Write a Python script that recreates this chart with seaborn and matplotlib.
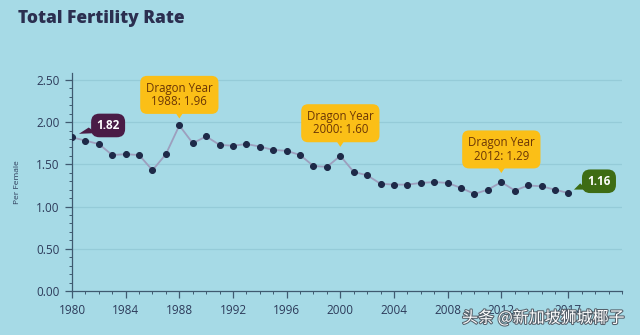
import matplotlib
matplotlib.use("Agg")
import matplotlib.pyplot as plt
import matplotlib.transforms as mtransforms
from matplotlib.patches import Polygon
import seaborn as sns
import pandas as pd
from matplotlib.ticker import MultipleLocator, FixedLocator
import matplotlib.patheffects as pe

years = list(range(1980, 2018))
tfr = [1.82, 1.78, 1.74, 1.61, 1.62, 1.61, 1.43, 1.62, 1.96, 1.75,
       1.83, 1.73, 1.72, 1.74, 1.71, 1.67, 1.66, 1.61, 1.48, 1.47,
       1.60, 1.41, 1.37, 1.27, 1.26, 1.26, 1.28, 1.29, 1.28, 1.22,
       1.15, 1.20, 1.29, 1.19, 1.25, 1.24, 1.20, 1.16]
xtick_years = [1980, 1984, 1988, 1992, 1996, 2000, 2004, 2008, 2012, 2017]
ytick_vals = [0.0, 0.5, 1.0, 1.5, 2.0, 2.5]
dragon_years = [1988, 2000, 2012]
first_year, last_year = 1980, 2017

BG = "#a6dae6"
df = pd.DataFrame({"year": years, "tfr": tfr})
val = dict(zip(years, tfr))

sns.set_theme(style="white")
plt.rcParams["font.family"] = ["Open Sans", "DejaVu Sans"]

fig = plt.figure(figsize=(6.4, 3.35), dpi=100, facecolor=BG)
ax = fig.add_axes([0.1125, 0.131, 0.8595, 0.651])
ax.set_facecolor(BG)

for yv in ytick_vals[1:]:
    ax.axhline(yv, color="#95cbd8", lw=0.9, zorder=0)

sns.lineplot(data=df, x="year", y="tfr", ax=ax, color="#9d9fbe", lw=1.3,
             marker="o", markersize=4.3, markerfacecolor="#1e2a48",
             markeredgecolor="#1e2a48", zorder=3)

ax.set_xlim(1980, 2021)
ax.set_ylim(0, 2.58)
ax.xaxis.set_major_locator(FixedLocator(xtick_years))
ax.set_xticklabels([str(y) for y in xtick_years])
ax.xaxis.set_minor_locator(MultipleLocator(1))
ax.yaxis.set_major_locator(FixedLocator(ytick_vals))
ax.set_yticklabels([f"{v:.2f}" for v in ytick_vals])
ax.yaxis.set_minor_locator(MultipleLocator(0.1))
ax.tick_params(axis="both", which="major", direction="out", length=5, width=0.9,
               color="#3f5a70", labelsize=8.5, labelcolor="#2d3b5a", pad=4)
ax.tick_params(axis="both", which="minor", direction="out", length=2.5, width=0.7,
               color="#3f5a70")
ax.tick_params(axis="x", which="both", bottom=True)
ax.tick_params(axis="y", which="both", left=True)
for s in ["top", "right"]:
    ax.spines[s].set_visible(False)
for s in ["left", "bottom"]:
    ax.spines[s].set_color("#3f5a70")
    ax.spines[s].set_linewidth(0.9)
ax.set_xlabel("")
ax.set_ylabel("Per Female", fontsize=6, color="#2d3b5a", labelpad=11)

fig.text(0.028, 0.945, "Total Fertility Rate", fontsize=12.5, fontweight="heavy",
         color="#2b2f50", va="center", ha="left")


def pointer(x, y, verts_pt, color):
    trans = fig.dpi_scale_trans + mtransforms.ScaledTranslation(x, y, ax.transData)
    verts = [(vx / 72.0, vy / 72.0) for vx, vy in verts_pt]
    ax.add_patch(Polygon(verts, closed=True, transform=trans, fc=color, ec="none",
                         zorder=5, clip_on=False))


YEL = "#fbbf17"
for yr, dy in zip(dragon_years, [22, 23.5, 23.5]):
    ax.annotate(f"Dragon Year\n{yr}: {val[yr]:.2f}", xy=(yr, val[yr]),
                xytext=(0, dy), textcoords="offset points", ha="center", va="center",
                fontsize=8.3, color="#6b3606", linespacing=1.05, zorder=6,
                bbox=dict(boxstyle="round,pad=0.5,rounding_size=0.6", fc=YEL, ec="none"))
    bottom = dy - 11.5
    pointer(yr, val[yr], [(-5, bottom + 2), (5, bottom + 2), (0, bottom - 5.5)], YEL)

PURPLE = "#4a1c46"
ax.annotate(f"{val[first_year]:.2f}", xy=(first_year, val[first_year]),
            xytext=(26, 8.5), textcoords="offset points", ha="center", va="center",
            fontsize=8.5, fontweight="bold", color="white", annotation_clip=False, zorder=6,
            bbox=dict(boxstyle="round,pad=0.45,rounding_size=0.7", fc=PURPLE, ec="none"))
pointer(first_year, val[first_year], [(12, 7), (18, 3), (5, 2.5)], PURPLE)

GREEN = "#3e6c14"
ax.annotate(f"{val[last_year]:.2f}", xy=(last_year, val[last_year]),
            xytext=(22, 8.5), textcoords="offset points", ha="center", va="center",
            fontsize=8.5, fontweight="bold", color="white", annotation_clip=False, zorder=6,
            bbox=dict(boxstyle="round,pad=0.45,rounding_size=0.7", fc=GREEN, ec="none"))
pointer(last_year, val[last_year], [(8.5, 7), (13, 2.5), (4, 2.5)], GREEN)

fig.text(0.722, 0.05, "头条 @新加坡狮城椰子", fontsize=11.5, color="white",
         family=["Noto Sans CJK SC", "DejaVu Sans"], va="center", ha="left",
         path_effects=[pe.withStroke(linewidth=1.5, foreground="#55606a")])

fig.savefig("out.png", dpi=100, facecolor=BG)
